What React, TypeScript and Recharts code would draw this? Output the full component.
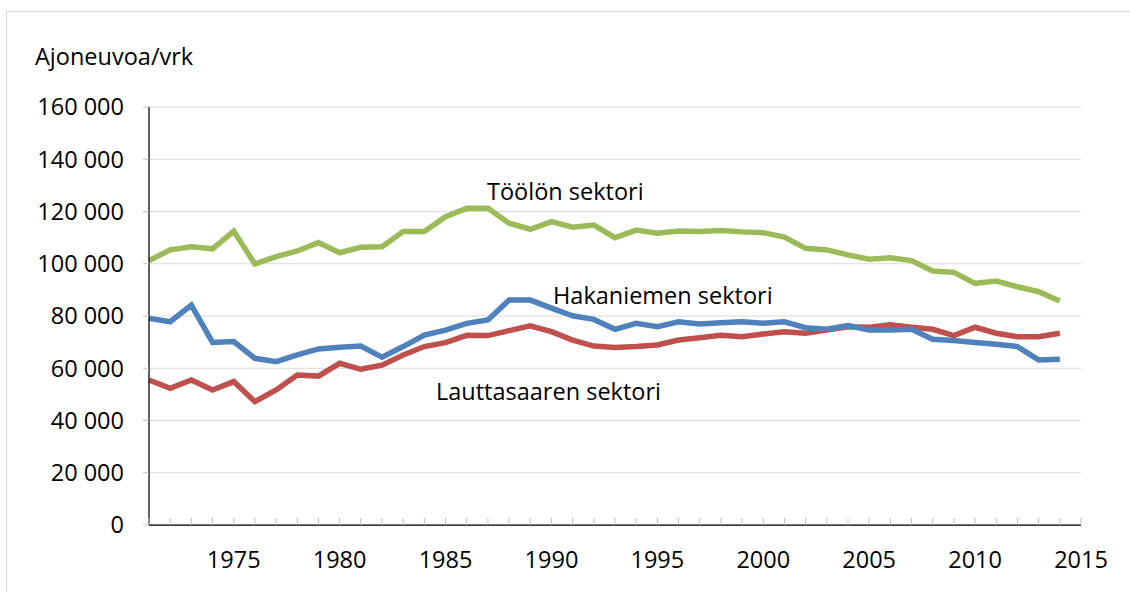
import { LineChart, Line, XAxis, YAxis, CartesianGrid } from "recharts";

const years = [
  1971, 1972, 1973, 1974, 1975, 1976, 1977, 1978, 1979, 1980, 1981, 1982, 1983,
  1984, 1985, 1986, 1987, 1988, 1989, 1990, 1991, 1992, 1993, 1994, 1995, 1996,
  1997, 1998, 1999, 2000, 2001, 2002, 2003, 2004, 2005, 2006, 2007, 2008, 2009,
  2010, 2011, 2012, 2013, 2014,
];

const tooloValues = [
  101200, 105300, 106500, 105700, 112500, 99900, 102700, 104900, 108100, 104200,
  106300, 106500, 112300, 112300, 118000, 121200, 121200, 115500, 113200, 116100,
  114000, 114800, 110000, 112900, 111700, 112500, 112300, 112700, 112200, 111900,
  110200, 105900, 105300, 103400, 101700, 102300, 101200, 97200, 96700, 92500,
  93400, 91200, 89300, 85700,
];

const hakaniemiValues = [
  79100, 77800, 84200, 69900, 70200, 63800, 62500, 65100, 67400, 68000, 68500,
  64200, 68300, 72700, 74600, 77200, 78500, 86100, 86100, 83000, 80100, 78700,
  74900, 77200, 75900, 77800, 76900, 77400, 77800, 77200, 77800, 75500, 74900,
  76300, 74600, 74600, 74900, 71100, 70600, 69900, 69200, 68300, 63200, 63400,
];

const lauttasaariValues = [
  55500, 52300, 55500, 51700, 54900, 47200, 51700, 57400, 57000, 61900, 59600,
  61200, 65100, 68300, 69800, 72600, 72500, 74400, 76200, 74000, 70800, 68500,
  67900, 68300, 68900, 70800, 71700, 72600, 72100, 73100, 74000, 73400, 74600,
  75900, 75700, 76600, 75700, 74900, 72500, 75700, 73400, 72100, 72100, 73400,
];

const yTicks = [0, 20000, 40000, 60000, 80000, 100000, 120000, 140000, 160000];
const labelYears = [1975, 1980, 1985, 1990, 1995, 2000, 2005, 2010, 2015];
const minorYears = [...years, 2015];

const data = years.map((year, i) => ({
  year,
  toolo: tooloValues[i],
  hakaniemi: hakaniemiValues[i],
  lauttasaari: lauttasaariValues[i],
}));

const FONT = "'Open Sans', sans-serif";
const FS = 23.5;

const formatThousands = (v: number) =>
  v === 0 ? "0" : `${Math.floor(v / 1000)} 000`;

function YearTick(props: any) {
  const { x, y, payload } = props;
  const year = payload.value;
  return (
    <g>
      <line x1={x} x2={x} y1={y} y2={y - 7} stroke="#bfbfbf" strokeWidth={1} />
      {labelYears.includes(year) && (
        <text
          x={x}
          y={y + 35}
          dy="0.355em"
          textAnchor="middle"
          fill="#000"
          fontSize={FS}
          fontFamily={FONT}
        >
          {year}
        </text>
      )}
    </g>
  );
}

function App() {
  return (
    <div
      style={{
        position: "absolute",
        left: 0,
        top: 0,
        width: 1130,
        height: 592,
        background: "#fff",
        fontFamily: FONT,
      }}
    >
      <div
        style={{
          position: "absolute",
          left: 6,
          top: 11,
          right: 0,
          bottom: 0,
          borderTop: "1px solid #d9d9d9",
          borderLeft: "1px solid #d9d9d9",
        }}
      />
      <LineChart
        width={1130}
        height={592}
        data={data}
        margin={{ top: 107, right: 49, bottom: 0, left: 0 }}
        style={{ position: "absolute", left: 0, top: 0 }}
      >
        <CartesianGrid vertical={false} stroke="#d9d9d9" strokeWidth={1} />
        <XAxis
          dataKey="year"
          type="number"
          domain={[1971, 2015]}
          ticks={minorYears}
          interval={0}
          tickLine={false}
          tickSize={0}
          tickMargin={0}
          height={67}
          axisLine={{ stroke: "#000", strokeWidth: 1.25 }}
          tick={<YearTick />}
        />
        <YAxis
          type="number"
          domain={[0, 160000]}
          ticks={yTicks}
          interval={0}
          width={149}
          tickSize={6}
          tickMargin={19}
          tickLine={{ stroke: "#bfbfbf" }}
          axisLine={{ stroke: "#000", strokeWidth: 1.25 }}
          tickFormatter={formatThousands}
          tick={{ fill: "#000", fontSize: FS, fontFamily: FONT }}
        />
        <Line
          dataKey="lauttasaari"
          stroke="#c0504d"
          strokeWidth={5.5}
          dot={false}
          isAnimationActive={false}
        />
        <Line
          dataKey="hakaniemi"
          stroke="#4f81bd"
          strokeWidth={5.5}
          dot={false}
          isAnimationActive={false}
        />
        <Line
          dataKey="toolo"
          stroke="#9bbb59"
          strokeWidth={5.5}
          dot={false}
          isAnimationActive={false}
        />
      </LineChart>
      <svg
        width={1130}
        height={592}
        style={{ position: "absolute", left: 0, top: 0, pointerEvents: "none" }}
      >
        <g fontFamily={FONT} fontSize={FS} fill="#000">
          <text x={35} y={65}>Ajoneuvoa/vrk</text>
          <text x={487} y={200}>Töölön sektori</text>
          <text x={553} y={304}>Hakaniemen sektori</text>
          <text x={436} y={400}>Lauttasaaren sektori</text>
        </g>
      </svg>
    </div>
  );
}

export default App;
